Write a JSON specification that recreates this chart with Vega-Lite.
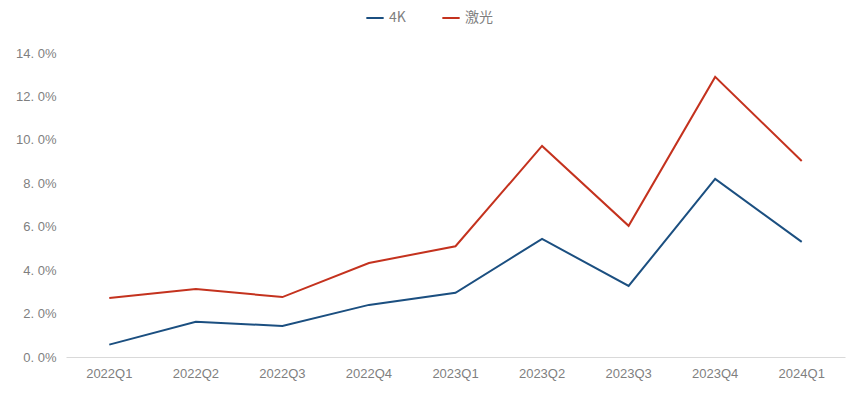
{
  "$schema": "https://vega.github.io/schema/vega-lite/v6.json",
  "width": 779,
  "height": 304,
  "autosize": {"type": "none"},
  "padding": {"left": 66, "top": 53, "right": 20, "bottom": 46},
  "background": "white",
  "config": {"view": {"stroke": null}, "font": "Noto Sans CJK SC"},
  "data": {"values": [
    {"q": "2022Q1", "s": "4K", "v": 0.0057},
    {"q": "2022Q2", "s": "4K", "v": 0.0162},
    {"q": "2022Q3", "s": "4K", "v": 0.0143},
    {"q": "2022Q4", "s": "4K", "v": 0.0240},
    {"q": "2023Q1", "s": "4K", "v": 0.0296},
    {"q": "2023Q2", "s": "4K", "v": 0.0544},
    {"q": "2023Q3", "s": "4K", "v": 0.0327},
    {"q": "2023Q4", "s": "4K", "v": 0.0820},
    {"q": "2024Q1", "s": "4K", "v": 0.0530},
    {"q": "2022Q1", "s": "激光", "v": 0.0272},
    {"q": "2022Q2", "s": "激光", "v": 0.0313},
    {"q": "2022Q3", "s": "激光", "v": 0.0276},
    {"q": "2022Q4", "s": "激光", "v": 0.0433},
    {"q": "2023Q1", "s": "激光", "v": 0.0510},
    {"q": "2023Q2", "s": "激光", "v": 0.0972},
    {"q": "2023Q3", "s": "激光", "v": 0.0604},
    {"q": "2023Q4", "s": "激光", "v": 0.1290},
    {"q": "2024Q1", "s": "激光", "v": 0.0903}
  ]},
  "mark": {"type": "line", "strokeWidth": 2},
  "encoding": {
    "x": {
      "field": "q", "type": "ordinal",
      "scale": {"type": "band", "paddingInner": 0, "paddingOuter": 0},
      "axis": {
        "title": null, "labelAngle": 0, "ticks": false, "domainColor": "#d9d9d9",
        "labelColor": "#7f7f7f", "labelFontSize": 13, "labelPadding": 10,
        "labelFont": "Liberation Sans"
      }
    },
    "y": {
      "field": "v", "type": "quantitative",
      "scale": {"domain": [0, 0.14]},
      "axis": {
        "title": null, "values": [0, 0.02, 0.04, 0.06, 0.08, 0.10, 0.12, 0.14],
        "labelExpr": "replace(format(datum.value, '.1%'), '.', '. ')",
        "grid": false, "domain": false, "ticks": false,
        "labelColor": "#7f7f7f", "labelFontSize": 13, "labelPadding": 10,
        "labelFont": "Liberation Sans"
      }
    },
    "color": {
      "field": "s", "type": "nominal",
      "scale": {"domain": ["4K", "激光"], "range": ["#1B4F80", "#C4321E"]},
      "legend": {
        "title": null, "orient": "none", "direction": "horizontal",
        "legendX": 299, "legendY": -45,
        "symbolType": "stroke", "symbolStrokeWidth": 2, "symbolSize": 300,
        "labelColor": "#7f7f7f", "labelFontSize": 14, "columnPadding": 32
      }
    }
  }
}
